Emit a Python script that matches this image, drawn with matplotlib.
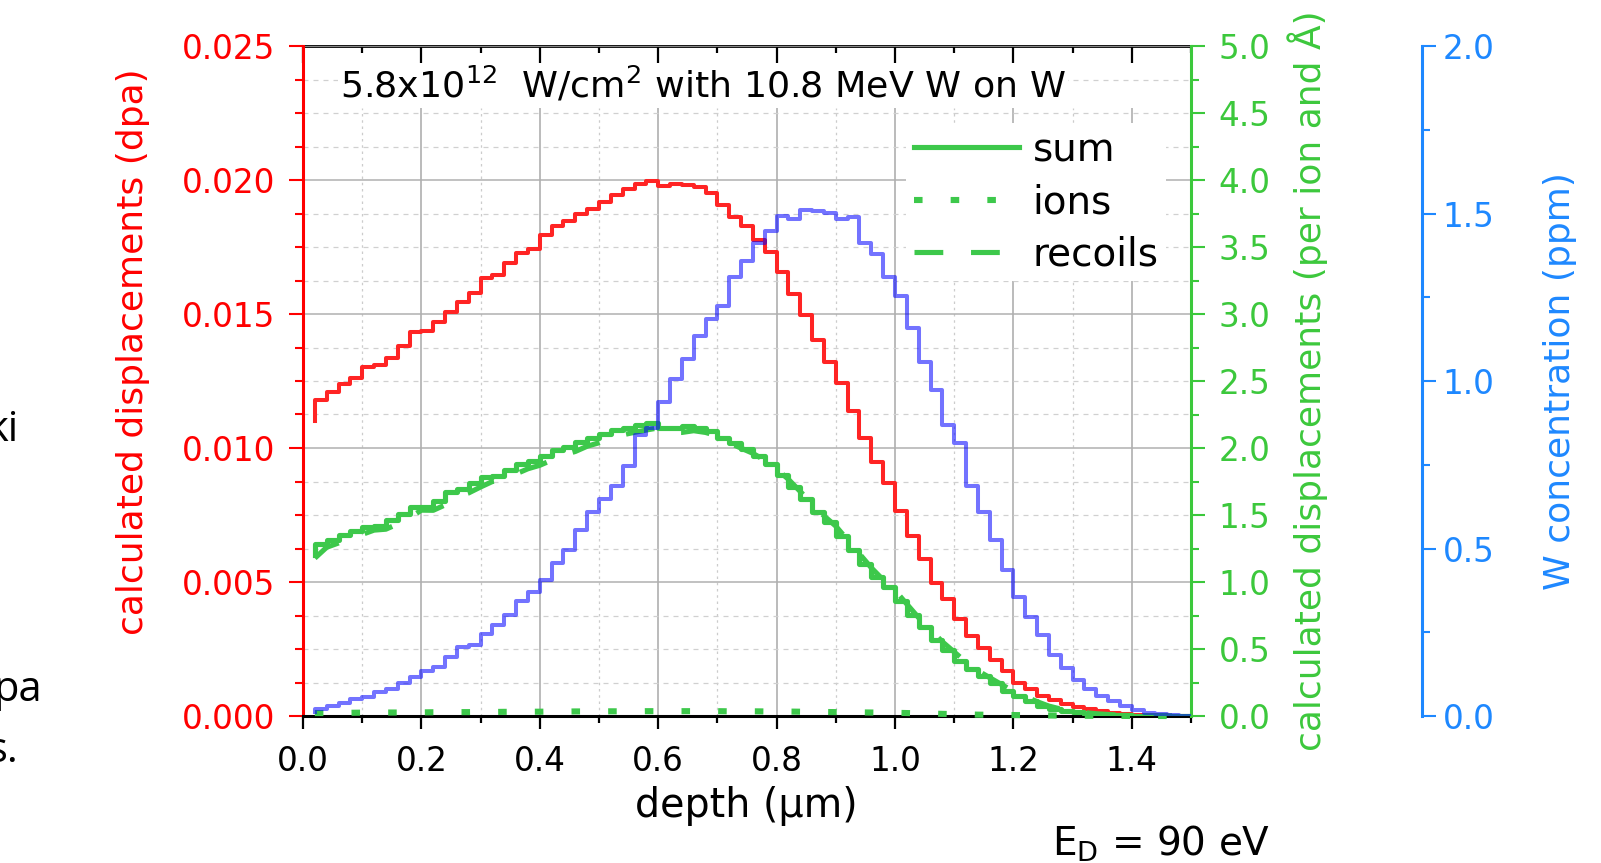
import numpy as np
import matplotlib
matplotlib.use("Agg")
import matplotlib.pyplot as plt
from matplotlib.ticker import MultipleLocator, FormatStrFormatter

plt.rcParams["font.family"] = ["DejaVu Sans"]
plt.rcParams["mathtext.fontset"] = "dejavusans"
plt.rcParams["mathtext.default"] = "regular"

# ---- data -----------------------------------------------------------------
bin_width = 0.02
depth = np.round(np.arange(1, 76) * bin_width, 2)          # µm, right bin edges

dpa = [0.01102, 0.01178, 0.01209, 0.01237, 0.01263, 0.01302, 0.01310, 0.01337, 0.01379, 0.01431,
       0.01435, 0.01472, 0.01507, 0.01543, 0.01579, 0.01634, 0.01644, 0.01689, 0.01728, 0.01744,
       0.01795, 0.01830, 0.01847, 0.01873, 0.01893, 0.01919, 0.01945, 0.01965, 0.01984, 0.01997,
       0.01978, 0.01984, 0.01982, 0.01974, 0.01952, 0.01906, 0.01863, 0.01827, 0.01775, 0.01733,
       0.01658, 0.01576, 0.01498, 0.01403, 0.01322, 0.01243, 0.01137, 0.01037, 0.00949, 0.00871,
       0.00766, 0.00673, 0.00586, 0.00497, 0.00435, 0.00363, 0.00298, 0.00252, 0.00210, 0.00167,
       0.00124, 0.00100, 0.00075, 0.00060, 0.00046, 0.00035, 0.00026, 0.00018, 0.00012, 0.00008,
       0.00005, 0.00003, 0.00002, 0.00001, 0.00000]

w_conc = [0.013, 0.021, 0.029, 0.038, 0.050, 0.058, 0.073, 0.082, 0.100, 0.116,
          0.134, 0.146, 0.176, 0.207, 0.212, 0.244, 0.272, 0.301, 0.343, 0.369,
          0.406, 0.458, 0.497, 0.554, 0.610, 0.648, 0.688, 0.746, 0.838, 0.861,
          0.937, 1.005, 1.067, 1.133, 1.185, 1.224, 1.310, 1.359, 1.412, 1.449,
          1.493, 1.485, 1.509, 1.507, 1.502, 1.485, 1.491, 1.412, 1.380, 1.310,
          1.255, 1.157, 1.057, 0.973, 0.869, 0.814, 0.688, 0.610, 0.525, 0.437,
          0.356, 0.296, 0.241, 0.181, 0.144, 0.108, 0.082, 0.061, 0.045, 0.031,
          0.019, 0.010, 0.006, 0.003, 0.001]

disp_sum = [1.200, 1.281, 1.315, 1.354, 1.380, 1.412, 1.420, 1.459, 1.506, 1.563,
            1.563, 1.603, 1.668, 1.694, 1.739, 1.780, 1.793, 1.838, 1.877, 1.903,
            1.942, 1.982, 2.008, 2.047, 2.073, 2.107, 2.133, 2.152, 2.170, 2.186,
            2.152, 2.152, 2.165, 2.152, 2.126, 2.073, 2.034, 1.995, 1.942, 1.877,
            1.799, 1.707, 1.616, 1.524, 1.446, 1.341, 1.237, 1.132, 1.041, 0.962,
            0.857, 0.753, 0.662, 0.570, 0.492, 0.413, 0.348, 0.295, 0.243, 0.190,
            0.152, 0.112, 0.078, 0.055, 0.039, 0.028, 0.018, 0.012, 0.008, 0.005,
            0.003, 0.002, 0.001, 0.0005, 0.000]

disp_ions = [0.022, 0.022, 0.024, 0.024, 0.025, 0.025, 0.026, 0.026, 0.027, 0.027,
             0.028, 0.028, 0.029, 0.029, 0.030, 0.030, 0.031, 0.031, 0.032, 0.032,
             0.033, 0.033, 0.034, 0.034, 0.034, 0.035, 0.035, 0.035, 0.036, 0.036,
             0.036, 0.036, 0.036, 0.036, 0.036, 0.035, 0.035, 0.035, 0.034, 0.034,
             0.033, 0.032, 0.031, 0.030, 0.029, 0.028, 0.027, 0.026, 0.025, 0.024,
             0.022, 0.020, 0.018, 0.016, 0.014, 0.012, 0.010, 0.009, 0.008, 0.007,
             0.006, 0.005, 0.004, 0.003, 0.002, 0.002, 0.001, 0.001, 0.001, 0.000,
             0.000, 0.000, 0.000, 0.000, 0.000]

disp_recoils = [1.178, 1.259, 1.291, 1.330, 1.355, 1.387, 1.394, 1.433, 1.479, 1.536,
                1.535, 1.575, 1.639, 1.665, 1.709, 1.750, 1.762, 1.807, 1.845, 1.871,
                1.909, 1.949, 1.974, 2.013, 2.039, 2.072, 2.098, 2.117, 2.134, 2.150,
                2.116, 2.116, 2.129, 2.116, 2.090, 2.038, 1.999, 1.960, 1.908, 1.843,
                1.766, 1.675, 1.585, 1.494, 1.417, 1.313, 1.210, 1.106, 1.016, 0.938,
                0.835, 0.733, 0.644, 0.554, 0.478, 0.401, 0.338, 0.286, 0.235, 0.183,
                0.146, 0.107, 0.074, 0.052, 0.037, 0.026, 0.017, 0.011, 0.007, 0.005,
                0.003, 0.002, 0.001, 0.0005, 0.000]

# ---- styling ----------------------------------------------------------------
RED = "#FF0000"
RED_LINE = "#FF2424"
GREEN = "#3CC83C"
GREEN_LINE = "#3DC84B"
BLUE_AX = "#1E88FF"
TICK_FS = 23.5
LABEL_FS = 26

W, H = 1601, 863
fig = plt.figure(figsize=(W / 100, H / 100), dpi=100)
ax = fig.add_axes([303 / W, 1 - 716 / H, 888 / W, 670 / H])
ax_g = ax.twinx()
ax_b = ax.twinx()

ax.set_xlim(0, 1.5)
ax.set_ylim(0, 0.025)
ax_g.set_ylim(0, 5.0)
ax_b.set_ylim(0, 2.0)

# grid: horizontal lines span the frame, vertical ones stop below the heading
ax.yaxis.set_major_locator(MultipleLocator(0.005))
ax.yaxis.set_minor_locator(MultipleLocator(0.00125))
ax.grid(axis="y", which="major", color="#b0b0b0", lw=1.1, ls="-")
ax.grid(axis="y", which="minor", color="#d0d0d0", lw=0.9, ls=(0, (4, 4)))
grid_top = 0.0227
for xv in np.arange(0.1, 1.5, 0.1):
    major = abs(round(xv / 0.2) * 0.2 - xv) < 1e-6
    ax.vlines(xv, 0, grid_top, colors="#a8a8a8" if major else "#cccccc",
              lw=1.1 if major else 0.9, ls="-" if major else (0, (2, 3)), zorder=0.5)
ax.set_axisbelow(True)

# curves
ax.plot(depth, dpa, drawstyle="steps-pre", color=RED_LINE, lw=2.9, zorder=3)
l_sum, = ax_g.plot(depth, disp_sum, drawstyle="steps-pre", color=GREEN_LINE, lw=3.7,
                   label="sum")
l_ions, = ax_g.plot(depth, disp_ions, color=GREEN_LINE, lw=4.4, dashes=(1.4, 4.6),
                    label="ions", clip_on=False, zorder=4)
l_rec, = ax_g.plot(depth, disp_recoils, color=GREEN_LINE, lw=3.7, dashes=(5.6, 5.4),
                   label="recoils")
ax_b.plot(depth, w_conc, drawstyle="steps-pre", color="#0000FF", alpha=0.55, lw=2.9)

# x axis (bottom ticks outward, top ticks inward)
ax.xaxis.set_major_locator(MultipleLocator(0.2))
ax.xaxis.set_minor_locator(MultipleLocator(0.1))
ax.xaxis.set_major_formatter(FormatStrFormatter("%.1f"))
ax.tick_params(axis="x", which="major", direction="out", length=9, width=1.6,
               labelsize=TICK_FS, pad=12, colors="black")
ax.tick_params(axis="x", which="minor", direction="out", length=5, width=1.6)
top = ax.secondary_xaxis("top")
top.xaxis.set_major_locator(MultipleLocator(0.2))
top.xaxis.set_minor_locator(MultipleLocator(0.1))
top.tick_params(axis="x", which="major", direction="in", length=12, width=1.6,
                labeltop=False)
top.tick_params(axis="x", which="minor", direction="in", length=5, width=1.6)
top.spines["top"].set_linewidth(2.0)
ax.set_xlabel("depth (µm)", fontsize=28.5)
ax.xaxis.set_label_coords(0.4989, -0.1343)
ax.xaxis.label.set_va("center")

# left (red) axis
ax.spines["left"].set_color(RED)
ax.spines["left"].set_linewidth(2.2)
ax.spines["bottom"].set_linewidth(2.2)
ax.spines["right"].set_visible(False)
ax.spines["top"].set_visible(False)
ax.yaxis.set_major_formatter(FormatStrFormatter("%.3f"))
ax.tick_params(axis="y", which="major", direction="out", length=10, width=1.5,
               colors=RED, labelsize=TICK_FS, pad=10)
ax.tick_params(axis="y", which="minor", direction="out", length=5.5, width=1.5,
               colors=RED)
ax.set_ylabel("calculated displacements (dpa)", fontsize=LABEL_FS, color=RED,
              va="center", ha="center")
ax.yaxis.set_label_coords(-0.1914, 0.5433)

# right (green) axis
for s in ("left", "top", "bottom"):
    ax_g.spines[s].set_visible(False)
ax_g.spines["right"].set_color(GREEN)
ax_g.spines["right"].set_linewidth(2.2)
ax_g.yaxis.set_major_locator(MultipleLocator(0.5))
ax_g.yaxis.set_minor_locator(MultipleLocator(0.25))
ax_g.yaxis.set_major_formatter(FormatStrFormatter("%.1f"))
ax_g.tick_params(axis="y", which="major", direction="out", length=10, width=1.5,
                 colors=GREEN, labelsize=TICK_FS, pad=10)
ax_g.tick_params(axis="y", which="minor", direction="out", length=5.5, width=1.5,
                 colors=GREEN)
ax_g.set_ylabel("calculated displacements (per ion and Å)", fontsize=LABEL_FS,
                color=GREEN, va="center", ha="center")
ax_g.yaxis.set_label_coords(1.1318, 0.5)

# outer (blue) axis
for s in ("left", "top", "bottom"):
    ax_b.spines[s].set_visible(False)
ax_b.spines["right"].set_position(("axes", 1 + 231 / 888))
ax_b.spines["right"].set_color(BLUE_AX)
ax_b.spines["right"].set_linewidth(2.2)
ax_b.yaxis.set_major_locator(MultipleLocator(0.5))
ax_b.yaxis.set_minor_locator(MultipleLocator(0.25))
ax_b.yaxis.set_major_formatter(FormatStrFormatter("%.1f"))
ax_b.tick_params(axis="y", which="major", direction="out", length=10, width=1.5,
                 colors=BLUE_AX, labelsize=TICK_FS, pad=5)
ax_b.tick_params(axis="y", which="minor", direction="out", length=5.5, width=1.5,
                 colors=BLUE_AX)
ax_b.set_ylabel("W concentration (ppm)", fontsize=LABEL_FS, color=BLUE_AX,
                va="center", ha="center")
ax_b.yaxis.set_label_coords(1.4155, 0.5)

# heading inside the frame
ax_b.text(0.0417, 0.9224, r"5.8x10$^{12}$  W/cm$^{2}$ with 10.8 MeV W on W",
          transform=ax.transAxes, fontsize=26.2, va="baseline", ha="left",
          bbox=dict(facecolor="white", edgecolor="none", pad=1.5), zorder=5)

leg = ax_b.legend(handles=[l_sum, l_ions, l_rec], loc="upper left",
                  bbox_to_anchor=(906 / W, 1 - 123 / H), bbox_transform=fig.transFigure,
                  fontsize=28, frameon=True, fancybox=False, framealpha=1,
                  facecolor="white", edgecolor="none", borderpad=0.2,
                  borderaxespad=0, handlelength=2.7, handletextpad=0.35,
                  labelspacing=0.37)
leg.set_zorder(6)

fig.text(1052 / W, (H - 856) / H, r"E$_{\mathrm{D}}$ = 90 eV", fontsize=28,
         ha="left", va="baseline")

# fragments of neighbouring slide text at the left edge
for txt, xr, yb in (("ki", 19, 441), ("pa", 42, 701), ("s.", 19, 762)):
    fig.text(xr / W, (H - yb) / H, txt, fontsize=30, family="Open Sans",
             ha="right", va="baseline")

fig.savefig("out.png", dpi=100)
